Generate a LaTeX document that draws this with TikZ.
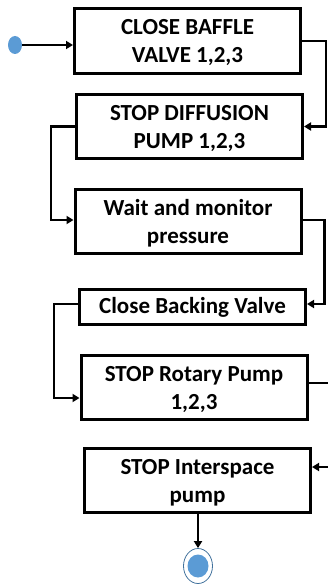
\documentclass[tikz,border=0pt]{standalone}
\usepackage{fontspec}
\setmainfont{Carlito}
\usepackage{tikz}
\usetikzlibrary{arrows.meta, positioning, calc, shapes.geometric}
\definecolor{dotFill}{RGB}{91,155,213}
\definecolor{dotEdge}{RGB}{65,113,156}

\begin{document}
\begin{tikzpicture}[
    x=1pt, y=-1pt,
    stepbox/.style={rectangle, draw=black, line width=3pt, fill=white, minimum width=226pt, align=center, inner sep=0pt, font=\fontsize{23}{28}\selectfont\bfseries},
    tall/.style={minimum height=64pt, text height=44pt, text depth=0pt},
    flat/.style={minimum height=35pt, text height=12pt, text depth=0pt},
    arrow/.style={-{Triangle[length=7pt, width=8pt]}, line width=2.8pt, black},
    startdot/.style={ellipse, fill=dotFill, minimum width=14pt, minimum height=18pt, inner sep=0pt},
    enddot/.style={ellipse, fill=dotFill, minimum width=21pt, minimum height=23pt, inner sep=0pt}
]
\useasboundingbox (0,0) rectangle (328,586);

% --- start point ---
\node[startdot] (start) at (15,45) {};

% --- steps ---
\node[stepbox, tall] (baffle)  at (187.5,41)  {CLOSE BAFFLE\\VALVE 1,2,3};
\node[stepbox, tall] (diff)    at (189.5,126.5) {STOP DIFFUSION\\PUMP 1,2,3};
\node[stepbox, tall] (wait)    at (188,221)   {Wait and monitor\\pressure};
\node[stepbox, flat] (backing) at (192.5,307)   {Close Backing Valve};
\node[stepbox, tall] (rotary)  at (194,387.5) {STOP Rotary Pump\\1,2,3};
\node[stepbox, tall] (inter)   at (197.5,480) {STOP Interspace\\pump};

% --- end point ---
\node[draw=dotEdge, line width=0.8pt, ellipse, minimum width=29pt, minimum height=35pt, inner sep=0pt] (stopring) at (198,566) {};
\node[enddot] (stop) at (stopring.center) {};

% === connectors ===
\draw[arrow, line width=2.2pt] (start) -- (start -| baffle.west);

\coordinate (r1) at ([xshift=24pt]baffle.east);
\draw[arrow] (baffle.east) -- (r1) |- (diff.east);

\coordinate (l1) at ([xshift=-24pt]diff.west);
\draw[arrow] (diff.west) -- (l1) |- ([yshift=1pt]wait.west);

\coordinate (r2) at ([xshift=22pt,yshift=1pt]wait.east);
\draw[arrow] ([yshift=1pt]wait.east) -- (r2) |- ([yshift=3pt]backing.east);

\coordinate (l2) at ([xshift=-24pt,yshift=3pt]backing.west);
\draw[arrow] ([yshift=3pt]backing.west) -- (l2) |- ([yshift=-10.5pt]rotary.west);

% runs off the right edge
\coordinate (r3) at ([xshift=24pt,yshift=4.5pt]rotary.east);
\draw[arrow] ([yshift=4.5pt]rotary.east) -- (r3) |- ([yshift=13pt]inter.east);

\draw[arrow] (inter.south -| stopring.north) -- (stopring.north);

\end{tikzpicture}
\end{document}
